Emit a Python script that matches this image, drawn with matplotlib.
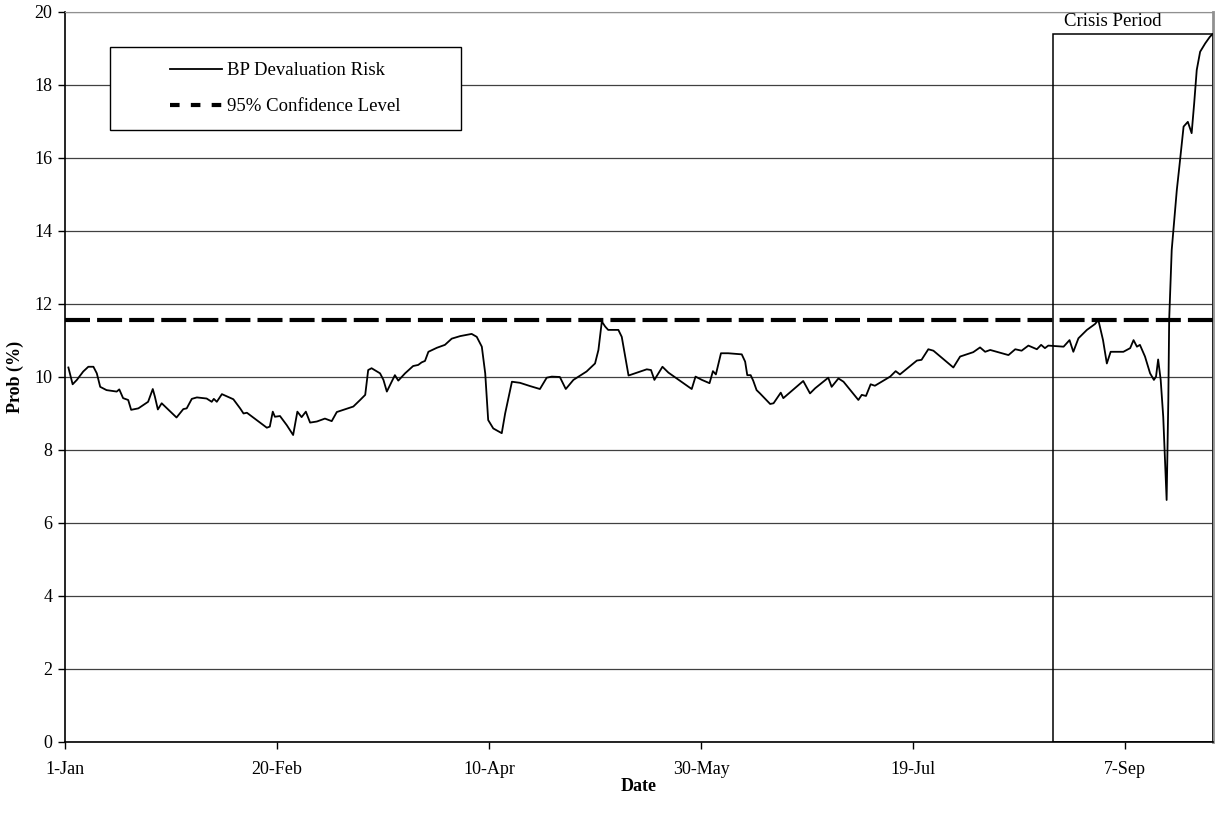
import numpy as np
import matplotlib.pyplot as plt
from matplotlib.patches import Rectangle
from matplotlib.lines import Line2D

plt.rcParams['font.family'] = ['Liberation Serif', 'DejaVu Serif']

# days counted from 1-Jan (1992)
dias = [0.8, 1.8, 2.8, 4.3, 5.5, 6.7, 7.5, 8.3, 9.8, 12.2, 12.8, 13.7, 14.9, 15.6,
        17.3, 19.6, 20.7, 21.2, 21.9, 22.8, 24.4, 26.3, 27.9, 28.7, 29.9, 31.1,
        33.4, 34.6, 35.1, 35.8, 37.0, 39.7, 41.3, 42.1, 42.9, 45.2, 47.6, 48.3,
        49.0, 49.5, 50.7, 52.3, 53.8, 54.8, 55.8, 56.8, 57.8, 59.4, 61.3, 62.9,
        64.1, 68.0, 69.6, 70.8, 71.5, 72.3, 74.3, 75.1, 75.9, 77.8, 78.6, 80.2,
        82.1, 83.3, 84.1, 84.9, 85.7, 87.7, 89.6, 91.2, 93.2, 95.9, 97.1, 98.3,
        99.1, 99.8, 101.0, 103.0, 103.8, 105.4, 107.3, 109.7, 112.0, 113.6,
        114.8, 116.7, 118.1, 119.9, 123.0, 125.0, 125.8, 126.6, 127.4, 128.1,
        130.5, 131.3, 132.9, 137.2, 138.2, 139.0, 140.9, 142.3, 147.8, 148.7,
        150.2, 152.0, 152.8, 153.5, 154.7, 156.4, 159.6, 160.4, 160.9, 161.7,
        162.3, 163.1, 163.9, 166.3, 167.1, 168.8, 169.4, 174.1, 175.7, 176.9,
        180.0, 180.8, 182.4, 183.6, 187.1, 187.9, 188.9, 190.0, 191.0, 194.6,
        195.9, 196.9, 200.9, 202.0, 203.6, 204.8, 209.5, 211.1, 214.2, 215.8,
        217.0, 218.2, 222.5, 224.1, 225.6, 227.2, 229.2, 230.2, 231.1, 231.9,
        235.5, 236.9, 237.8, 239.0, 241.0, 242.9, 243.7, 244.8, 245.7, 246.6,
        249.6, 251.2, 252.0, 252.8, 253.5, 254.7, 255.9, 256.8, 257.3, 257.8,
        258.4, 259.0, 259.8, 260.2, 260.4, 261.0, 261.4, 262.2, 262.8, 263.8,
        264.8, 265.7, 266.3, 266.9, 267.7, 268.9, 270.0, 270.6]
risco = [10.26, 9.80, 9.92, 10.15, 10.28, 10.28, 10.10, 9.73, 9.64, 9.60, 9.66, 9.42,
         9.37, 9.10, 9.14, 9.32, 9.67, 9.46, 9.11, 9.28, 9.10, 8.89, 9.12, 9.14, 9.40,
         9.44, 9.41, 9.32, 9.40, 9.32, 9.53, 9.39, 9.14, 9.00, 9.02, 8.82, 8.61, 8.64,
         9.05, 8.91, 8.93, 8.68, 8.41, 9.05, 8.90, 9.05, 8.75, 8.78, 8.86, 8.79, 9.04,
         9.19, 9.37, 9.51, 10.19, 10.24, 10.10, 9.92, 9.60, 10.05, 9.90, 10.10, 10.30,
         10.33, 10.40, 10.44, 10.69, 10.80, 10.88, 11.05, 11.12, 11.18, 11.10, 10.83,
         10.10, 8.82, 8.59, 8.46, 9.00, 9.87, 9.84, 9.75, 9.67, 9.98, 10.01, 10.00,
         9.67, 9.92, 10.15, 10.37, 10.74, 11.52, 11.38, 11.29, 11.29, 11.10, 10.04,
         10.21, 10.19, 9.92, 10.28, 10.12, 9.67, 10.01, 9.92, 9.83, 10.16, 10.07,
         10.65, 10.65, 10.62, 10.42, 10.05, 10.05, 9.90, 9.64, 9.55, 9.26, 9.28, 9.57,
         9.42, 9.89, 9.55, 9.69, 9.98, 9.73, 9.96, 9.87, 9.37, 9.51, 9.48, 9.80, 9.76,
         10.01, 10.16, 10.07, 10.45, 10.47, 10.76, 10.72, 10.26, 10.56, 10.68, 10.81,
         10.69, 10.74, 10.60, 10.76, 10.72, 10.86, 10.76, 10.88, 10.79, 10.86, 10.83,
         11.01, 10.69, 11.06, 11.29, 11.45, 11.56, 11.01, 10.37, 10.69, 10.69, 10.79,
         11.01, 10.83, 10.88, 10.56, 10.10, 9.92, 10.01, 10.48, 9.92, 8.91, 6.63, 9.37,
         11.56, 13.48, 14.03, 15.12, 15.76, 16.86, 16.99, 16.68, 17.50, 18.41, 18.91,
         19.14, 19.32, 19.39]

nivel_95 = 11.56
crise_inicio = 233.0
crise_topo = 19.4
fim_eixo = 270.75

tick_dias = [0, 50, 100, 150, 200, 250]
tick_nomes = ['1-Jan', '20-Feb', '10-Apr', '30-May', '19-Jul', '7-Sep']

fig = plt.figure(figsize=(12.15, 8.15), dpi=100)
ax = fig.add_axes([0.0535, 0.0896, 0.9449, 0.8957])

ax.plot(dias, risco, color='black', lw=1.3, zorder=3)
tracejada, = ax.plot([0, fim_eixo], [nivel_95, nivel_95], color='black', lw=3, zorder=3)
tracejada.set_dashes([6, 1.7])

# caixa do periodo de crise
ax.add_patch(Rectangle((crise_inicio, 0), fim_eixo - crise_inicio, crise_topo,
                       fill=False, edgecolor='black', lw=1.1, zorder=4))
ax.text(247.1, 19.75, 'Crisis Period', ha='center', va='center', fontsize=13.5)

ax.set_xlim(0, fim_eixo)
ax.set_ylim(0, 20)
ax.set_yticks(np.arange(0, 21, 2))
ax.set_xticks(tick_dias)
ax.set_xticklabels(tick_nomes)
ax.tick_params(direction='out', length=5, width=1, labelsize=13, pad=9)
ax.tick_params(axis='y', pad=4)
ax.yaxis.grid(True, color='#404040', lw=0.9)
ax.set_axisbelow(True)

ax.spines['top'].set_color('#909090')
ax.spines['right'].set_color('#909090')
ax.spines['right'].set_linewidth(2)
ax.spines['left'].set_linewidth(1.2)
ax.spines['bottom'].set_linewidth(1.2)

ax.set_ylabel('Prob (%)', fontsize=13, fontweight='bold')
ax.set_xlabel('Date', fontsize=13, fontweight='bold')
ax.yaxis.set_label_coords(-0.036, 0.5)
ax.xaxis.set_label_coords(0.5, -0.049)

# legenda
ax.add_patch(Rectangle((0.039, 0.838), 0.306, 0.114, transform=ax.transAxes,
                       facecolor='white', edgecolor='black', lw=1, zorder=4.5))
h1 = Line2D([], [], color='black', lw=1.3)
h2 = Line2D([], [], color='black', lw=3, linestyle=(0, (2.3, 2.7)))
ax.legend([h1, h2], ['BP Devaluation Risk', '95% Confidence Level'], frameon=False,
          loc='center', bbox_to_anchor=(0.192, 0.895), fontsize=13.5,
          handlelength=2.75, handletextpad=0.3, labelspacing=1.0)

fig.savefig('out.png', dpi=100)
